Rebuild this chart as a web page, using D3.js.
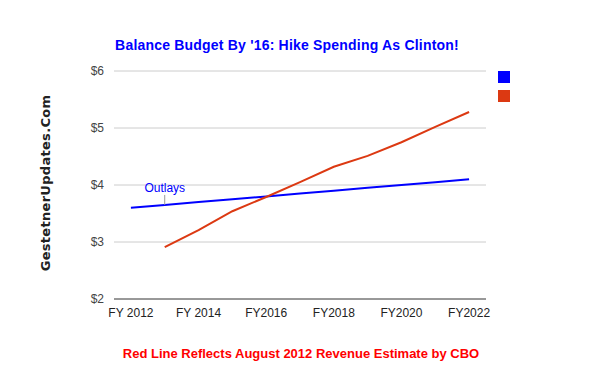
<!DOCTYPE html>
<html>
<head>
<meta charset="utf-8">
<script src="https://cdn.jsdelivr.net/npm/d3@7"></script>
<style>
  body { margin: 0; background: #fff; }
  text { font-family: Arial, "Liberation Sans", sans-serif; }
</style>
</head>
<body>
<script>
// Data
var years = ["2012","2013","2014","2015","2016","2017","2018","2019","2020","2021","2022"];
var tickLabels = {"2012": "FY 2012", "2014": "FY 2014", "2016": "FY2016", "2018": "FY2018", "2020": "FY2020", "2022": "FY2022"};
var outlays = [3.6, 3.65, 3.7, 3.75, 3.8, 3.85, 3.9, 3.95, 4.0, 4.05, 4.1];
var revenue = [null, 2.91, 3.21, 3.54, 3.79, 4.05, 4.32, 4.51, 4.75, 5.02, 5.28];
var yTicks = [2, 3, 4, 5, 6];

var margin = {top: 71, right: 114, bottom: 72, left: 114},
    width = 600 - margin.left - margin.right,
    height = 371 - margin.top - margin.bottom;

var svg = d3.select("body").append("svg")
    .attr("width", 600)
    .attr("height", 371);

var g = svg.append("g")
    .attr("transform", "translate(" + margin.left + "," + margin.top + ")");

var x = d3.scaleBand()
    .domain(years)
    .range([0, width]);

var y = d3.scaleLinear()
    .domain([2, 6])
    .range([height, 0]);

// gridlines
g.selectAll(".grid")
    .data(yTicks.slice(1))
    .enter().append("line")
    .attr("x1", 0).attr("x2", width)
    .attr("y1", d => y(d)).attr("y2", d => y(d))
    .style("stroke", "#ccc")
    .style("stroke-width", 1);

// y labels
g.selectAll(".ylab")
    .data(yTicks)
    .enter().append("text")
    .attr("x", -10)
    .attr("y", d => y(d))
    .attr("dy", "0.35em")
    .style("text-anchor", "end")
    .style("font-size", "12px")
    .style("fill", "#444")
    .text(d => "$" + d);

// baseline
g.append("line")
    .attr("x1", 0).attr("x2", width)
    .attr("y1", height).attr("y2", height)
    .style("stroke", "#333")
    .style("stroke-width", 1);

// x labels
g.append("g")
    .attr("transform", "translate(0," + height + ")")
    .call(d3.axisBottom(x).tickValues(Object.keys(tickLabels)).tickFormat(d => tickLabels[d]).tickSize(0).tickPadding(9))
    .call(a => a.select(".domain").remove())
    .selectAll("text")
    .style("font-family", "Arial, 'Liberation Sans', sans-serif")
    .style("font-size", "12px")
    .style("fill", "#222");

var cx = d => x(d.year) + x.bandwidth() / 2;

var line = d3.line()
    .defined(d => d.v !== null)
    .x(cx)
    .y(d => y(d.v));

var outData = years.map((yr, i) => ({year: yr, v: outlays[i]}));
var revData = years.map((yr, i) => ({year: yr, v: revenue[i]}));

g.append("path")
    .datum(outData)
    .attr("d", line)
    .style("fill", "none")
    .style("stroke", "#0000ff")
    .style("stroke-width", 2);

g.append("path")
    .datum(revData)
    .attr("d", line)
    .style("fill", "none")
    .style("stroke", "#dc3912")
    .style("stroke-width", 2);

// annotation on outlays
var ann = outData[1];
g.append("line")
    .attr("x1", cx(ann)).attr("x2", cx(ann))
    .attr("y1", y(ann.v) - 10).attr("y2", y(ann.v))
    .style("stroke", "#999")
    .style("stroke-width", 1);
g.append("text")
    .attr("x", cx(ann))
    .attr("y", y(ann.v) - 13)
    .style("text-anchor", "middle")
    .style("font-size", "12px")
    .style("fill", "#0000ff")
    .text("Outlays");

// legend (colour boxes only)
var legendColors = ["#0000ff", "#dc3912"];
svg.selectAll(".leg")
    .data(legendColors)
    .enter().append("rect")
    .attr("x", 498)
    .attr("y", (d, i) => 71 + i * 19)
    .attr("width", 12)
    .attr("height", 12)
    .style("fill", d => d);

// title
svg.append("text")
    .attr("x", 287)
    .attr("y", 50)
    .style("text-anchor", "middle")
    .style("font-size", "14px")
    .style("font-weight", "bold")
    .style("letter-spacing", "0.2px")
    .style("fill", "#0000ff")
    .text("Balance Budget By '16: Hike Spending As Clinton!");

// y title
svg.append("text")
    .attr("transform", "translate(50,183) rotate(-90)")
    .style("text-anchor", "middle")
    .style("font-family", "'DejaVu Sans', Verdana, sans-serif")
    .style("font-size", "13px")
    .style("font-weight", "bold")
    .style("letter-spacing", "0.3px")
    .style("fill", "#222")
    .text("GestetnerUpdates.Com");

// footer
svg.append("text")
    .attr("x", 301)
    .attr("y", 358)
    .style("text-anchor", "middle")
    .style("font-size", "13px")
    .style("font-weight", "bold")
    .style("fill", "#ff0000")
    .text("Red Line Reflects August 2012 Revenue Estimate by CBO");
</script>
</body>
</html>
